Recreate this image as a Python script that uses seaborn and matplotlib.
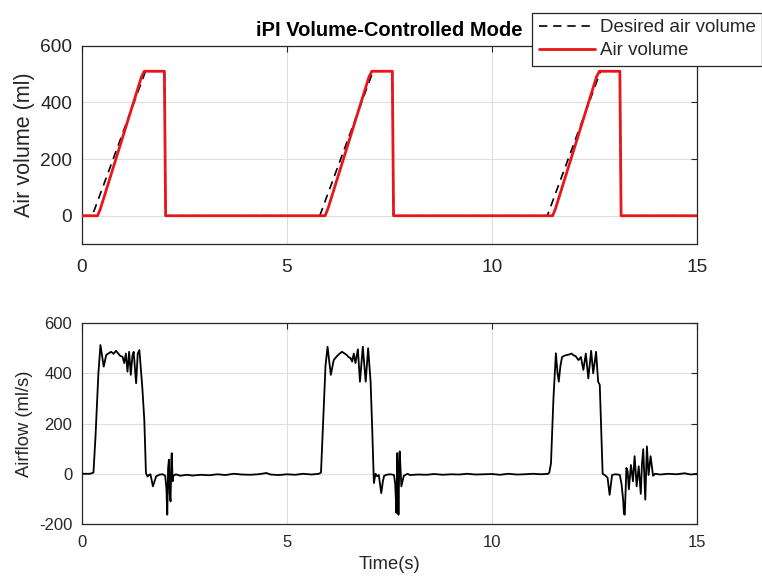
import numpy as np
import pandas as pd
import seaborn as sns
import matplotlib
matplotlib.use("Agg")
import matplotlib.pyplot as plt

sns.set_theme(style="white")
plt.rcParams['font.family'] = ['Liberation Sans', 'DejaVu Sans']
plt.rcParams['axes.unicode_minus'] = False

# desired volume set-point (ml) - corner points
desired_t = [0.00, 0.25, 1.55, 2.01, 2.04, 5.80, 7.10, 7.57, 7.60, 11.35, 12.65, 13.12, 13.15, 15.00]
desired_v = [0, 0, 510, 510, 0, 0, 510, 510, 0, 0, 510, 510, 0, 0]

# measured air volume (ml)
volume_t = [0.00, 0.38, 0.45, 1.45, 1.52, 2.01, 2.04, 5.93, 6.00, 7.00, 7.07, 7.57, 7.60,
            11.48, 11.55, 12.55, 12.62, 13.12, 13.15, 15.00]
volume_v = [0, 0, 25, 490, 510, 510, 0, 0, 25, 490, 510, 510, 0,
            0, 25, 490, 510, 510, 0, 0]

# airflow (ml/s)
flow_t = [0.00, 0.20, 0.28, 0.33, 0.40, 0.45, 0.50, 0.53, 0.59, 0.65, 0.71, 0.77, 0.83, 0.88, 0.93,
          0.99, 1.03, 1.07, 1.11, 1.15, 1.19, 1.23, 1.26, 1.32, 1.36, 1.40, 1.47, 1.52, 1.56, 1.60,
          1.64, 1.67, 1.73, 1.78, 1.81, 1.90, 1.97, 2.03, 2.06, 2.08, 2.10, 2.12, 2.14, 2.16, 2.18,
          2.19, 2.21, 2.23, 2.29, 2.40, 2.55, 2.70, 2.90, 3.10, 3.30, 3.50, 3.70, 3.90, 4.10, 4.30,
          4.50, 4.60, 4.80, 5.00, 5.20, 5.40, 5.60, 5.78,
          5.83, 5.88, 5.94, 5.99, 6.03, 6.07, 6.14, 6.22, 6.28, 6.34, 6.40, 6.46, 6.50, 6.55, 6.59,
          6.63, 6.67, 6.73, 6.78, 6.85, 6.92, 6.98, 7.04, 7.08, 7.12, 7.16, 7.20, 7.24, 7.30, 7.34,
          7.37, 7.45, 7.53, 7.61, 7.64, 7.67, 7.69, 7.71, 7.72, 7.74, 7.75, 7.79, 7.85, 7.94, 8.00,
          8.20, 8.40, 8.60, 8.80, 9.00, 9.20, 9.40, 9.60, 9.80, 10.00, 10.20, 10.40, 10.60, 10.80,
          11.00, 11.20, 11.37,
          11.40, 11.44, 11.50, 11.56, 11.60, 11.63, 11.67, 11.71, 11.76, 11.82, 11.88, 11.94, 11.99,
          12.04, 12.08, 12.11, 12.17, 12.23, 12.29, 12.35, 12.42, 12.47, 12.54, 12.59, 12.63, 12.67,
          12.70, 12.75, 12.82, 12.87, 12.93, 13.00, 13.08, 13.12, 13.16, 13.20, 13.22, 13.24, 13.28,
          13.31, 13.34, 13.39, 13.44, 13.48, 13.53, 13.58, 13.63, 13.66, 13.69, 13.72, 13.74, 13.78,
          13.82, 13.87, 13.93, 13.98, 14.10, 14.30, 14.50, 14.70, 14.85, 15.00]
flow_v = [0, 0, 5, 150, 400, 513, 460, 427, 473, 480, 486, 478, 490, 480, 470,
          466, 441, 479, 407, 486, 394, 470, 486, 361, 479, 493, 347, 215, 3, -11,
          -4, -2, -50, -25, -10, -3, -2, -8, -60, -163, 20, 56, -80, -110, 60,
          82, -30, -8, -2, -8, -4, -7, -4, -6, -2, -5, 0, -3, -4, -2,
          3, -3, -5, -2, -4, 0, -3, 0,
          5, 200, 430, 506, 450, 394, 453, 469, 478, 486, 480, 473, 465, 461, 447,
          479, 441, 496, 367, 506, 367, 500, 367, 175, -37, 0, -10, -5, -77, -30,
          -8, -3, -2, -5, -40, -156, 82, -60, -163, 40, 89, -50, -8, 0, -5,
          -3, -4, -1, -4, -2, -3, 0, -3, -2, -1, -4, 0, -3, -2,
          0, -2, 0,
          5, 42, 300, 480, 400, 367, 430, 465, 470, 473, 475, 479, 472,
          469, 460, 453, 465, 414, 479, 380, 490, 400, 486, 367, 354, 150,
          0, -5, -15, -84, -5, -2, -3, -5, -40, -103, -160, -163, 23,
          10, -62, 35, -30, 70, -50, 30, -80, 40, 98, -20, -103, 109,
          -5, 70, -8, 0, -3, 0, -2, 2, -3, 0]

x_ticks = [0, 5, 10, 15]
vol_ticks = [0, 200, 400, 600]
flow_ticks = [-200, 0, 200, 400, 600]

dark = '#262626'
red = '#e8161b'

fig = plt.figure(figsize=(7.62, 5.77), dpi=100)
ax1 = fig.add_axes([0.1076, 0.577, 0.807, 0.3437])
ax2 = fig.add_axes([0.1076, 0.0919, 0.807, 0.348])

sns.lineplot(x=desired_t, y=desired_v, ax=ax1, color='black', linewidth=1.2,
             linestyle=(0, (5, 3.5)), estimator=None, sort=False,
             label='Desired air volume', zorder=2)
sns.lineplot(x=volume_t, y=volume_v, ax=ax1, color=red, linewidth=2.0,
             estimator=None, sort=False, label='Air volume', zorder=3)
sns.lineplot(x=flow_t, y=flow_v, ax=ax2, color='black', linewidth=1.3,
             estimator=None, sort=False, zorder=3)

for ax, yt, ylim, tick_size in [(ax1, vol_ticks, (-100, 600), 13.8),
                                (ax2, flow_ticks, (-200, 600), 12)]:
    ax.set_xlim(0, 15)
    ax.set_ylim(*ylim)
    ax.set_xticks(x_ticks)
    ax.set_yticks(yt)
    ax.grid(True, color='#dedede', linewidth=0.8)
    ax.set_axisbelow(True)
    ax.tick_params(direction='in', top=True, right=True, length=4, width=0.8,
                   color=dark, labelcolor=dark, labelsize=tick_size, pad=7)
    for s in ax.spines.values():
        s.set_color(dark)
        s.set_linewidth(0.9)

ax1.tick_params(axis='x', pad=11)
ax2.tick_params(axis='x', pad=8)

ax1.set_ylabel('Air volume (ml)', fontsize=15.5, color=dark, labelpad=4)
ax2.set_ylabel('Airflow (ml/s)', fontsize=13.2, color=dark, labelpad=4)
ax2.set_xlabel('Time(s)', fontsize=13.2, color=dark, labelpad=4)
ax1.set_title('iPI Volume-Controlled Mode', fontsize=14.5, fontweight='bold',
              color='black', pad=7)

handles, labels = ax1.get_legend_handles_labels()
ax1.get_legend().remove()
leg = fig.legend(handles, labels, loc='upper right', bbox_to_anchor=(1.0, 0.978),
                 fontsize=13.5, frameon=True, fancybox=False, framealpha=1,
                 edgecolor=dark, borderpad=0.35, handlelength=3.0, handletextpad=0.25,
                 labelspacing=0.3, borderaxespad=0)
leg.get_frame().set_linewidth(0.9)

fig.savefig('out.png', dpi=100)
